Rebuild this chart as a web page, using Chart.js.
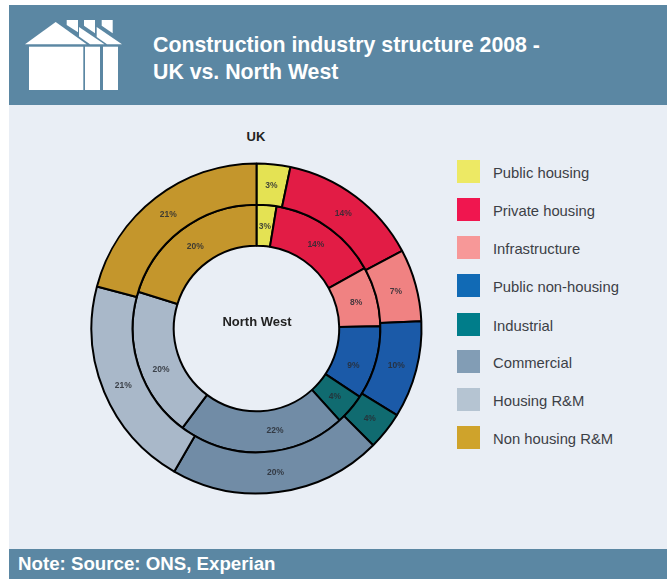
<!DOCTYPE html>
<html>
<head>
<meta charset="utf-8">
<title>Construction industry structure 2008</title>
<script src="https://cdn.jsdelivr.net/npm/chart.js@4"></script>
<style>
    html, body { margin: 0; padding: 0; background: #fff; }
    body { width: 667px; height: 579px; position: relative; overflow: hidden; font-family: "Liberation Sans", Arial, sans-serif; }
    #panel { position: absolute; left: 9px; top: 5px; width: 658px; height: 574px; background: #e9eef5; }
    #header { position: absolute; left: 9px; top: 5px; width: 658px; height: 100px; background: #5b87a3; }
    #icon { position: absolute; left: 0; top: 0; }
    #title { position: absolute; left: 153px; top: 32px; color: #fff; font-weight: bold; font-size: 21.3px; line-height: 27px; white-space: nowrap; }
    #footer { position: absolute; left: 9px; top: 549px; width: 658px; height: 30px; background: #5b87a3; }
    #note { position: absolute; left: 18px; top: 553px; color: #fff; font-weight: bold; font-size: 18.7px; line-height: 21px; white-space: nowrap; }
    #chartBox { position: absolute; left: 86px; top: 158px; width: 341px; height: 341px; }
    .ringName { position: absolute; font-weight: bold; font-size: 13px; color: #222; transform: translateX(-50%); white-space: nowrap; }
    .swatch { position: absolute; left: 457px; width: 23px; height: 23px; }
    .legendText { position: absolute; left: 493px; font-size: 14.8px; line-height: 23px; color: #3c4046; white-space: nowrap; }
</style>
</head>
<body>
<div id="panel"></div>
<div id="header"></div>
<svg id="icon" width="140" height="105">
    <g fill="#fff">
        <polygon points="25,44.3 55.7,22 86.7,44.3"/>
        <polygon points="66.7,20 78,20 78,32.3 66.7,25"/>
        <polygon points="84,20 95,20 95,33.3 84,25.7"/>
        <polygon points="101.7,20 112.7,20 112.7,33.3 101.7,25.7"/>
        <polygon points="79,27 104.5,44.3 90,44.3 79,36.5"/>
        <polygon points="96.7,27 122,44.3 107,44.3 96.7,37"/>
        <rect x="29" y="46.7" width="54.3" height="43.3"/>
        <rect x="85" y="46.7" width="15" height="43.3"/>
        <rect x="103" y="46.7" width="15" height="43.3"/>
    </g>
</svg>
<div id="title">Construction industry structure 2008 -<br>UK vs. North West</div>
<div id="footer"></div>
<div id="note">Note: Source: ONS, Experian</div>
<div class="ringName" style="left:256px;top:129px">UK</div>
<div id="chartBox"><canvas id="ringChart" width="341" height="341"></canvas></div>
<div class="ringName" style="left:257px;top:314px">North West</div>
<div id="legend"></div>

<script>
// Categorias
const categories = ['Public housing', 'Private housing', 'Infrastructure', 'Public non-housing', 'Industrial', 'Commercial', 'Housing R&M', 'Non housing R&M'];

// Printed percentages, as labelled on the rings
const ukLabels = [3, 14, 7, 10, 4, 20, 21, 21];
const northWestLabels = [3, 14, 8, 9, 4, 22, 20, 20];

// Arc shares, a bit finer than the rounded labels
const ukShares = [3.3, 13.9, 7.1, 9.5, 3.7, 20.8, 20.8, 20.9];
const northWestShares = [2.6, 14.3, 7.8, 9.6, 4.0, 21.9, 19.6, 20.2];

const ringColors = ['#e4e253', '#e21c45', '#f08282', '#1b5aa8', '#106b70', '#718ca6', '#a9b8c9', '#c4962c'];
const legendColors = ['#ede964', '#f0164f', '#f79898', '#116ab5', '#007d8a', '#829db5', '#b5c4d2', '#cfa32b'];
const legendTops = [160, 198, 236, 274, 313, 350, 388, 426];

// A few labels sit off the middle of their arc in the original (degrees along the ring)
const labelTurn = { '1-3': 4, '1-5': -7.6, '1-6': -4.6 };

// Percent labels on each arc
const percentLabels = {
    id: 'percentLabels',
    afterDatasetsDraw(chart) {
        const ctx = chart.ctx;
        ctx.save();
        ctx.font = 'bold 8.5px "Liberation Sans", Arial, sans-serif';
        ctx.fillStyle = 'rgba(40,44,50,0.85)';
        ctx.textAlign = 'center';
        ctx.textBaseline = 'middle';
        chart.data.datasets.forEach((dataset, i) => {
            chart.getDatasetMeta(i).data.forEach((arc, j) => {
                const pos = arc.getCenterPoint();
                const turn = (labelTurn[i + '-' + j] || 0) * Math.PI / 180;
                const dx = pos.x - arc.x;
                const dy = pos.y - arc.y;
                const x = arc.x + dx * Math.cos(turn) - dy * Math.sin(turn);
                const y = arc.y + dx * Math.sin(turn) + dy * Math.cos(turn);
                ctx.fillText(dataset.printed[j] + '%', x, y + 1);
            });
        });
        ctx.restore();
    }
};

new Chart(document.getElementById('ringChart'), {
    type: 'doughnut',
    data: {
        labels: categories,
        datasets: [
            { label: 'UK', data: ukShares, printed: ukLabels, backgroundColor: ringColors, borderColor: '#000', borderWidth: 2 },
            { label: 'North West', data: northWestShares, printed: northWestLabels, backgroundColor: ringColors, borderColor: '#000', borderWidth: 2 }
        ]
    },
    options: {
        responsive: false,
        animation: false,
        cutout: 85,
        radius: 165,
        plugins: { legend: { display: false }, tooltip: { enabled: false } }
    },
    plugins: [percentLabels]
});

// Leyenda
const legend = document.getElementById('legend');
categories.forEach((name, i) => {
    const swatch = document.createElement('div');
    swatch.className = 'swatch';
    swatch.style.top = legendTops[i] + 'px';
    swatch.style.background = legendColors[i];
    legend.appendChild(swatch);

    const text = document.createElement('div');
    text.className = 'legendText';
    text.style.top = (legendTops[i] + 2) + 'px';
    text.textContent = name;
    legend.appendChild(text);
});
</script>
</body>
</html>
